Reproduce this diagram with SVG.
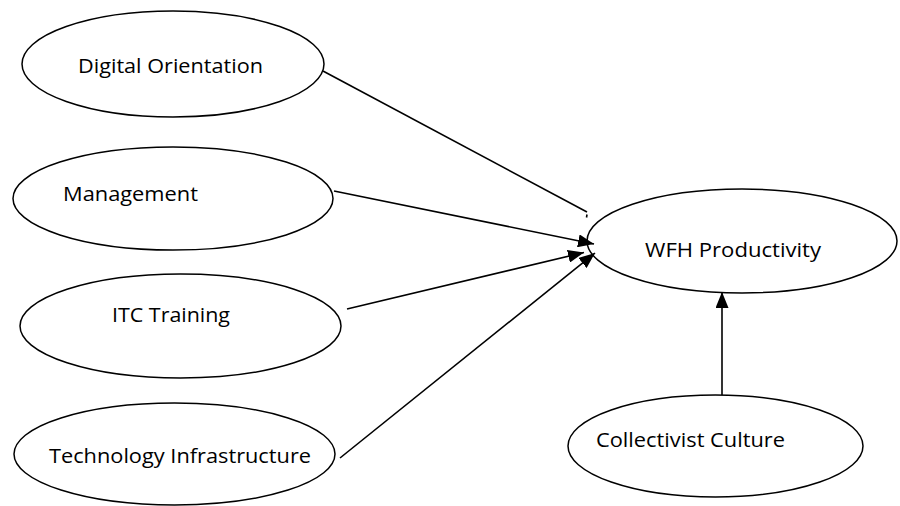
<svg xmlns="http://www.w3.org/2000/svg" width="900" height="506" viewBox="0 0 900 506">
<style>
.node ellipse{fill:#fff;stroke:#000;stroke-width:1.5}
.node text{font-family:"Open Sans","Liberation Sans",sans-serif;font-size:20.5px;fill:#000}
.edges line{stroke:#000;stroke-width:1.6}
</style>
<defs>
<marker id="ah" viewBox="0 0 16 13" refX="16" refY="6.5" markerWidth="16" markerHeight="13" markerUnits="userSpaceOnUse" orient="auto">
<path d="M0,0 L16,6.5 L0,13 z" fill="#000"/>
</marker>
</defs>
<rect width="900" height="506" fill="#fff"/>
<g id="n-digital" class="node">
<ellipse cx="173" cy="64" rx="151" ry="53"/>
<text x="78" y="73" textLength="185" lengthAdjust="spacingAndGlyphs">Digital Orientation</text>
</g>
<g id="n-management" class="node">
<ellipse cx="173" cy="198.5" rx="160" ry="51.5"/>
<text x="63" y="201" textLength="135" lengthAdjust="spacingAndGlyphs">Management</text>
</g>
<g id="n-itc" class="node">
<ellipse cx="180.5" cy="326" rx="160.5" ry="52"/>
<text x="112" y="322" textLength="118" lengthAdjust="spacingAndGlyphs">ITC Training</text>
</g>
<g id="n-tech" class="node">
<ellipse cx="174.5" cy="454" rx="160.5" ry="51"/>
<text x="49" y="463" textLength="262" lengthAdjust="spacingAndGlyphs">Technology Infrastructure</text>
</g>
<g id="n-wfh" class="node">
<ellipse cx="742" cy="241" rx="155" ry="52"/>
<text x="645" y="257" textLength="176" lengthAdjust="spacingAndGlyphs">WFH Productivity</text>
</g>
<g id="n-collectivist" class="node">
<ellipse cx="715.5" cy="446" rx="147.5" ry="51"/>
<text x="596" y="447" textLength="189" lengthAdjust="spacingAndGlyphs">Collectivist Culture</text>
</g>
<g id="edges" class="edges">
<line x1="323" y1="71" x2="587" y2="212"/>
<line x1="587" y1="214.5" x2="586.5" y2="217.5"/>
<line x1="334" y1="191" x2="594" y2="244" marker-end="url(#ah)"/>
<line x1="347" y1="309" x2="584" y2="252.5" marker-end="url(#ah)"/>
<line x1="340" y1="458" x2="595" y2="253" marker-end="url(#ah)"/>
<line x1="722" y1="395" x2="722" y2="292" marker-end="url(#ah)"/>
</g>
</svg>
